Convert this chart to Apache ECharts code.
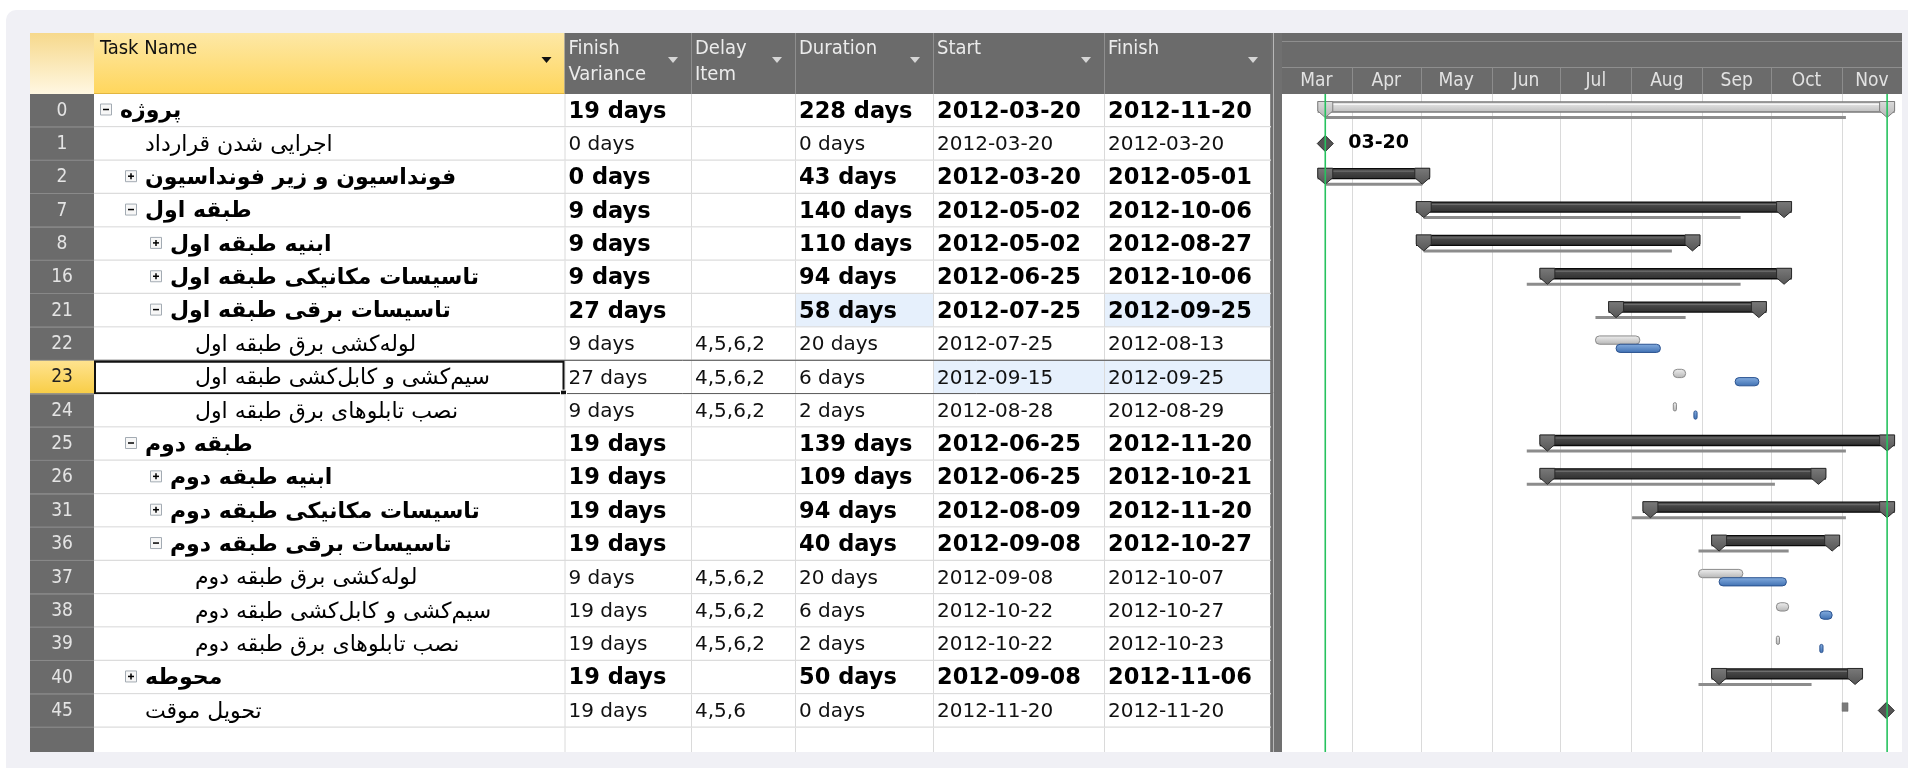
<!DOCTYPE html>
<html>
<head>
<meta charset="utf-8">
<title>Project Gantt</title>
<script src="https://cdn.jsdelivr.net/npm/echarts@6/dist/echarts.min.js"></script>
<style>
  html, body { margin: 0; padding: 0; background: #fff; }
  #main { width: 1908px; height: 768px; }
</style>
</head>
<body>
<div id="main"></div>
<script>
// ---- data ----
var rowIds = ['0', '1', '2', '7', '8', '16', '21', '22', '23', '24', '25', '26', '31', '36', '37', '38', '39', '40', '45'];
var taskNames = [
  'پروژه',
  'اجرایی شدن قرارداد',
  'فونداسیون و زیر فونداسیون',
  'طبقه اول',
  'ابنیه طبقه اول',
  'تاسیسات مکانیکی طبقه اول',
  'تاسیسات برقی طبقه اول',
  'لوله\u200cکشی برق طبقه اول',
  'سیم\u200cکشی و کابل\u200cکشی طبقه اول',
  'نصب تابلوهای برق طبقه اول',
  'طبقه دوم',
  'ابنیه طبقه دوم',
  'تاسیسات مکانیکی طبقه دوم',
  'تاسیسات برقی طبقه دوم',
  'لوله\u200cکشی برق طبقه دوم',
  'سیم\u200cکشی و کابل\u200cکشی طبقه دوم',
  'نصب تابلوهای برق طبقه دوم',
  'محوطه',
  'تحویل موقت'
];
var outlineLevel = [0, 1, 1, 1, 2, 2, 2, 3, 3, 3, 1, 2, 2, 2, 3, 3, 3, 1, 1];
var outlineSymbol = ['-', '', '+', '-', '+', '+', '-', '', '', '', '-', '+', '+', '-', '', '', '', '+', ''];
var rowKind = ['project', 'milestone', 'summary', 'summary', 'summary', 'summary', 'summary', 'task', 'task', 'task',
  'summary', 'summary', 'summary', 'summary', 'task', 'task', 'task', 'summary', 'milestone'];
var finishVariance = ['19 days', '0 days', '0 days', '9 days', '9 days', '9 days', '27 days', '9 days', '27 days', '9 days',
  '19 days', '19 days', '19 days', '19 days', '9 days', '19 days', '19 days', '19 days', '19 days'];
var delayItem = ['', '', '', '', '', '', '', '4,5,6,2', '4,5,6,2', '4,5,6,2', '', '', '', '', '4,5,6,2', '4,5,6,2', '4,5,6,2', '', '4,5,6'];
var durations = ['228 days', '0 days', '43 days', '140 days', '110 days', '94 days', '58 days', '20 days', '6 days', '2 days',
  '139 days', '109 days', '94 days', '40 days', '20 days', '6 days', '2 days', '50 days', '0 days'];
var startDates = ['2012-03-20', '2012-03-20', '2012-03-20', '2012-05-02', '2012-05-02', '2012-06-25', '2012-07-25', '2012-07-25',
  '2012-09-15', '2012-08-28', '2012-06-25', '2012-06-25', '2012-08-09', '2012-09-08', '2012-09-08', '2012-10-22', '2012-10-22',
  '2012-09-08', '2012-11-20'];
var finishDates = ['2012-11-20', '2012-03-20', '2012-05-01', '2012-10-06', '2012-08-27', '2012-10-06', '2012-09-25', '2012-08-13',
  '2012-09-25', '2012-08-29', '2012-11-20', '2012-10-21', '2012-11-20', '2012-10-27', '2012-10-07', '2012-10-27', '2012-10-23',
  '2012-11-06', '2012-11-20'];
// baseline dates
var baselineStart = ['2012-03-20', '2012-03-20', '2012-03-20', '2012-05-02', '2012-05-02', '2012-06-16', '2012-07-16', '2012-07-16',
  '2012-08-19', '2012-08-19', '2012-06-16', '2012-06-16', '2012-08-01', '2012-08-30', '2012-08-30', '2012-10-03', '2012-10-03',
  '2012-08-30', '2012-11-02'];
var baselineFinish = ['2012-11-02', '2012-03-20', '2012-05-01', '2012-09-17', '2012-08-18', '2012-09-17', '2012-08-24', '2012-08-04',
  '2012-08-24', '2012-08-20', '2012-11-02', '2012-10-02', '2012-11-02', '2012-10-08', '2012-09-18', '2012-10-08', '2012-10-04',
  '2012-10-18', '2012-11-02'];
var milestoneLabel = ['', '03-20', '', '', '', '', '', '', '', '', '', '', '', '', '', '', '', '', ''];
var headerLabels = ['Task Name', 'Finish\nVariance', 'Delay\nItem', 'Duration', 'Start', 'Finish'];
var monthLabels = ['Mar', 'Apr', 'May', 'Jun', 'Jul', 'Aug', 'Sep', 'Oct', 'Nov'];
var monthStarts = ['2012-03-01', '2012-04-01', '2012-05-01', '2012-06-01', '2012-07-01', '2012-08-01', '2012-09-01', '2012-10-01', '2012-11-01'];
var timeMin = '2012-03-01T00:00:00';
var timeMax = '2012-11-27T05:00:00';

// ---- layout / style ----
var TABLE_LEFT = 30, HEADER_TOP = 33, GRID_TOP = 94, GRID_H = 658;
var COL_X = [0, 64, 534.5, 661, 765, 903, 1074, 1241];
var GANTT_LEFT = 1281, GANTT_W = 621;
var Y_MAX = 19.73;
var SELECTED_ROW = 8;
var CHANGED_CELLS = { 6: [4, 6], 8: [5, 6] };
var FONT_C = '"DejaVu Sans Condensed", "DejaVu Sans", sans-serif';
var FONT_N = '"DejaVu Sans", sans-serif';
var FONT_FA = '"DejaVu Sans", sans-serif';

function ms(d, hm) { return new Date(d + 'T' + hm + ':00').getTime(); }
function grad(c0, c1) {
  return new echarts.graphic.LinearGradient(0, 0, 0, 1, [{ offset: 0, color: c0 }, { offset: 1, color: c1 }]);
}

var tableData = rowIds.map(function (id, i) { return [i]; });
tableData.push([rowIds.length]); // empty trailing row

var ganttData = rowIds.map(function (id, i) {
  return [i, ms(startDates[i], '08:00'), ms(finishDates[i], '17:00'),
    ms(baselineStart[i], '08:00'), ms(baselineFinish[i], '17:00')];
});
var monthData = monthStarts.map(function (m, i) {
  return [ms(m, '00:00'), i + 1 < monthStarts.length ? ms(monthStarts[i + 1], '00:00') : new Date(timeMax).getTime()];
});
var statusData = [[ms(startDates[0], '08:00')], [ms(finishDates[0], '17:00')]];

// ---- table rows ----
function renderRow(params, api) {
  var i = api.value(0);
  var top = api.coord([0, i])[1];
  var bot = Math.min(api.coord([0, i + 1])[1], api.coord([0, Y_MAX])[1]);
  var cy = top + (api.coord([0, i + 1])[1] - top) / 2;
  function X(c) { return api.coord([COL_X[c], i])[0]; }
  var blank = i >= rowIds.length;
  var sel = i === SELECTED_ROW;
  var ch = [];
  ch.push({ type: 'rect', shape: { x: X(0), y: top, width: X(1) - X(0), height: bot - top },
    style: { fill: sel ? grad('#ffe38f', '#f8cd45') : '#6b6b6b' } });
  ch.push({ type: 'rect', shape: { x: X(1), y: top, width: X(7) - X(1), height: bot - top }, style: { fill: '#fff' } });
  (CHANGED_CELLS[i] || []).forEach(function (c) {
    ch.push({ type: 'rect', shape: { x: X(c), y: top, width: X(c + 1) - X(c), height: bot - top }, style: { fill: '#e6f0fc' } });
  });
  for (var c = 2; c < 7; c++) {
    ch.push({ type: 'line', shape: { x1: X(c) + 0.5, y1: top, x2: X(c) + 0.5, y2: bot }, style: { stroke: '#dadada', lineWidth: 1 } });
  }
  ch.push({ type: 'line', shape: { x1: X(7) - 0.5, y1: top, x2: X(7) - 0.5, y2: bot }, style: { stroke: '#8a8a8a', lineWidth: 1 } });
  if (!blank) {
    ch.push({ type: 'line', shape: { x1: X(1), y1: bot - 0.5, x2: X(7), y2: bot - 0.5 }, style: { stroke: '#dcdcdc', lineWidth: 1.5 } });
    ch.push({ type: 'line', shape: { x1: X(0), y1: bot - 0.5, x2: X(1), y2: bot - 0.5 }, style: { stroke: '#8c8c8c', lineWidth: 1 } });
    ch.push({ type: 'text', style: { x: (X(0) + X(1)) / 2, y: cy, text: rowIds[i], fill: sel ? '#222' : '#e4e4e4',
      font: '19px ' + FONT_C, align: 'center', verticalAlign: 'middle' } });
    var kind = rowKind[i];
    var bold = kind === 'summary' || kind === 'project';
    var lvl = outlineLevel[i];
    var tx = X(1) + 26 + lvl * 25;
    if (outlineSymbol[i]) {
      var bx = X(1) + 6 + lvl * 25, by = top + 9.5;
      ch.push({ type: 'rect', shape: { x: bx + 0.5, y: by + 0.5, width: 11, height: 11 }, style: { fill: '#f7f7f7', stroke: '#a3abb3', lineWidth: 1 } });
      ch.push({ type: 'line', shape: { x1: bx + 3, y1: by + 6, x2: bx + 9, y2: by + 6 }, style: { stroke: '#000', lineWidth: 1.5 } });
      if (outlineSymbol[i] === '+') {
        ch.push({ type: 'line', shape: { x1: bx + 6, y1: by + 3, x2: bx + 6, y2: by + 9 }, style: { stroke: '#000', lineWidth: 1.5 } });
      }
    }
    ch.push({ type: 'text', style: { x: tx, y: cy + 1, text: taskNames[i], fill: '#000',
      font: (bold ? 'bold 22px ' : '22px ') + FONT_FA, align: 'left', verticalAlign: 'middle' } });
    var cells = [finishVariance[i], delayItem[i], durations[i], startDates[i], finishDates[i]];
    cells.forEach(function (t, k) {
      ch.push({ type: 'text', style: { x: X(k + 2) + 4, y: cy + 1, text: t, fill: bold ? '#000' : '#111',
        font: bold ? 'bold 22.5px ' + FONT_N : '20px ' + FONT_N, align: 'left', verticalAlign: 'middle' } });
    });
    if (sel) {
      ch.push({ type: 'line', shape: { x1: X(1), y1: top - 0.5, x2: X(7), y2: top - 0.5 }, style: { stroke: '#505050', lineWidth: 1 } });
      ch.push({ type: 'line', shape: { x1: X(1), y1: bot - 0.5, x2: X(7), y2: bot - 0.5 }, style: { stroke: '#505050', lineWidth: 1 } });
      ch.push({ type: 'rect', shape: { x: X(1) + 1, y: top + 1, width: X(2) - X(1) - 2, height: bot - top - 2 },
        style: { fill: 'none', stroke: '#111', lineWidth: 2 } });
      ch.push({ type: 'rect', shape: { x: X(2) - 4, y: bot - 4, width: 6, height: 6 }, style: { fill: '#111', stroke: '#fff', lineWidth: 1 } });
    }
  }
  return { type: 'group', children: ch };
}

// ---- gantt bars ----
function renderBar(params, api) {
  var i = api.value(0);
  var kind = rowKind[i];
  var top = api.coord([api.value(1), i])[1];
  var xs = api.coord([api.value(1), i])[0];
  var xe = api.coord([api.value(2), i])[0];
  var bxs = api.coord([api.value(3), i])[0];
  var bxe = api.coord([api.value(4), i])[0];
  var ch = [];
  if (kind === 'summary' || kind === 'project') {
    var proj = kind === 'project';
    ch.push({ type: 'rect', shape: { x: bxs, y: top + 22, width: bxe - bxs, height: 3 }, style: { fill: '#8c8c8c' } });
    ch.push({ type: 'rect', shape: { x: xs - 7, y: top + 8, width: xe - xs + 14, height: 10 },
      style: { fill: proj ? grad('#ececec', '#bdbdbd') : grad('#555', '#2e2e2e'), stroke: proj ? '#7a7a7a' : '#0a0a0a', lineWidth: 1.3 } });
    ch.push({ type: 'line', shape: { x1: xs - 5, y1: top + 10.5, x2: xe + 5, y2: top + 10.5 },
      style: { stroke: proj ? '#f6f6f6' : '#707070', lineWidth: 1 } });
    [xs, xe].forEach(function (xc) {
      ch.push({ type: 'polygon', shape: { points: [[xc - 7.5, top + 7.5], [xc + 7.5, top + 7.5], [xc + 7.5, top + 17], [xc, top + 23.5], [xc - 7.5, top + 17]] },
        style: { fill: proj ? grad('#dcdcdc', '#b4b4b4') : grad('#7a7a7a', '#555'), stroke: proj ? '#7e7e7e' : '#2a2a2a', lineWidth: 1 } });
    });
  } else if (kind === 'task') {
    var bw = Math.max(bxe - bxs, 2.5), cw = Math.max(xe - xs, 2.5);
    ch.push({ type: 'rect', shape: { x: bxs, y: top + 8.5, width: bw, height: 8.3, r: Math.min(4, bw / 2) },
      style: { fill: grad('#f0f0f0', '#b4b4b4'), stroke: '#8a8a8a', lineWidth: 1 } });
    ch.push({ type: 'rect', shape: { x: xs, y: top + 16.8, width: cw, height: 8.2, r: Math.min(4, cw / 2) },
      style: { fill: grad('#86aee0', '#3e6fb1'), stroke: '#2b5390', lineWidth: 1 } });
  } else {
    if (api.value(3) !== api.value(1)) {
      ch.push({ type: 'rect', shape: { x: bxs - 3, y: top + 8.5, width: 6, height: 8.5 }, style: { fill: '#7b7b7b', stroke: '#666', lineWidth: 0.5 } });
    }
    var cy = top + 16.2;
    ch.push({ type: 'polygon', shape: { points: [[xs, cy - 8], [xs + 8, cy], [xs, cy + 8], [xs - 8, cy]] },
      style: { fill: '#555', stroke: '#262626', lineWidth: 1 } });
    if (milestoneLabel[i]) {
      ch.push({ type: 'text', style: { x: xs + 23, y: cy, text: milestoneLabel[i], fill: '#000',
        font: 'bold 19px ' + FONT_N, align: 'left', verticalAlign: 'middle' } });
    }
  }
  return { type: 'group', children: ch };
}

function renderMonth(params, api) {
  var s = api.coord([api.value(0), 0]);
  var e = api.coord([api.value(1), 0]);
  var gb = api.coord([api.value(0), Y_MAX])[1];
  var ch = [];
  var x = Math.round(s[0]) + 0.5;
  if (params.dataIndex > 0) {
    ch.push({ type: 'line', shape: { x1: x, y1: s[1] - 26, x2: x, y2: s[1] }, style: { stroke: '#8c8c8c', lineWidth: 1 } });
    ch.push({ type: 'line', shape: { x1: x, y1: s[1], x2: x, y2: gb }, style: { stroke: '#dadada', lineWidth: 1 } });
  }
  ch.push({ type: 'text', style: { x: (s[0] + e[0]) / 2, y: s[1] - 13, text: monthLabels[params.dataIndex], fill: '#e2e2e2',
    font: '19px ' + FONT_C, align: 'center', verticalAlign: 'middle' } });
  return { type: 'group', children: ch };
}

function renderStatus(params, api) {
  var a = api.coord([api.value(0), 0]);
  var b = api.coord([api.value(0), Y_MAX]);
  return { type: 'line', shape: { x1: a[0], y1: a[1], x2: b[0], y2: b[1] }, style: { stroke: '#26c25e', lineWidth: 1.6 } };
}

// ---- static frame (headers, panel) ----
var ABS = COL_X.map(function (v) { return TABLE_LEFT + v; });
var frame = [];
frame.push({ type: 'rect', z: -10, shape: { x: 6, y: 10, width: 1930, height: 800, r: 10 }, style: { fill: '#f0f0f5' } });
frame.push({ type: 'rect', shape: { x: ABS[0], y: HEADER_TOP, width: ABS[1] - ABS[0], height: GRID_TOP - HEADER_TOP },
  style: { fill: grad('#f6d98c', '#fff7e2') } });
frame.push({ type: 'rect', shape: { x: ABS[1], y: HEADER_TOP, width: ABS[2] - ABS[1], height: GRID_TOP - HEADER_TOP },
  style: { fill: grad('#fde8a6', '#ffd65c') } });
frame.push({ type: 'rect', shape: { x: ABS[2], y: HEADER_TOP, width: ABS[7] - ABS[2], height: GRID_TOP - HEADER_TOP },
  style: { fill: '#6b6b6b' } });
for (var c = 3; c < 7; c++) {
  frame.push({ type: 'line', shape: { x1: ABS[c] + 0.5, y1: HEADER_TOP, x2: ABS[c] + 0.5, y2: GRID_TOP }, style: { stroke: '#8e8e8e', lineWidth: 1 } });
}
frame.push({ type: 'line', shape: { x1: ABS[1], y1: GRID_TOP - 0.5, x2: ABS[2], y2: GRID_TOP - 0.5 }, style: { stroke: '#e2b640', lineWidth: 1 } });
headerLabels.forEach(function (t, k) {
  var c = k + 1;
  var lines = t.split('\n');
  lines.forEach(function (ln, j) {
    frame.push({ type: 'text', style: { x: ABS[c] + (c === 1 ? 6 : 4), y: 49 + j * 25.5, text: ln, fill: c === 1 ? '#111' : '#ececec',
      font: '20px ' + FONT_C, align: 'left', verticalAlign: 'middle' } });
  });
  var ax = ABS[c + 1] - 18;
  frame.push({ type: 'polygon', shape: { points: [[ax - 5, 57], [ax + 5, 57], [ax, 63]] }, style: { fill: c === 1 ? '#111' : '#d6d6d6' } });
});
// divider between table and gantt
frame.push({ type: 'rect', shape: { x: ABS[7], y: HEADER_TOP, width: GANTT_LEFT - ABS[7] + 1, height: GRID_TOP + GRID_H - HEADER_TOP },
  style: { fill: '#707070' } });
frame.push({ type: 'line', shape: { x1: ABS[7] + 2.5, y1: HEADER_TOP, x2: ABS[7] + 2.5, y2: GRID_TOP + GRID_H }, style: { stroke: '#b8b8b8', lineWidth: 1 } });
// gantt header and body background
frame.push({ type: 'rect', shape: { x: GANTT_LEFT + 1, y: HEADER_TOP, width: GANTT_W - 1, height: GRID_TOP - HEADER_TOP }, style: { fill: '#6b6b6b' } });
frame.push({ type: 'line', shape: { x1: GANTT_LEFT + 1, y1: 41.5, x2: GANTT_LEFT + GANTT_W, y2: 41.5 }, style: { stroke: '#8e8e8e', lineWidth: 1 } });
frame.push({ type: 'line', shape: { x1: GANTT_LEFT + 1, y1: 67.5, x2: GANTT_LEFT + GANTT_W, y2: 67.5 }, style: { stroke: '#8e8e8e', lineWidth: 1 } });
frame.push({ type: 'rect', shape: { x: GANTT_LEFT + 1, y: GRID_TOP, width: GANTT_W - 1, height: GRID_H }, style: { fill: '#fff' } });

var option = {
  animation: false,
  backgroundColor: '#fff',
  graphic: { elements: frame },
  grid: [
    { left: TABLE_LEFT, top: GRID_TOP, width: COL_X[7], height: GRID_H },
    { left: GANTT_LEFT, top: GRID_TOP, width: GANTT_W, height: GRID_H }
  ],
  xAxis: [
    { type: 'value', gridIndex: 0, min: 0, max: COL_X[7], show: false },
    { type: 'time', gridIndex: 1, min: timeMin, max: timeMax, show: false }
  ],
  yAxis: [
    { type: 'value', gridIndex: 0, min: 0, max: Y_MAX, inverse: true, show: false },
    { type: 'value', gridIndex: 1, min: 0, max: Y_MAX, inverse: true, show: false }
  ],
  series: [
    { type: 'custom', name: 'table', xAxisIndex: 0, yAxisIndex: 0, renderItem: renderRow, data: tableData, z: 2, silent: true },
    { type: 'custom', name: 'months', xAxisIndex: 1, yAxisIndex: 1, renderItem: renderMonth, data: monthData, encode: { x: [0, 1] }, z: 2, silent: true },
    { type: 'custom', name: 'bars', xAxisIndex: 1, yAxisIndex: 1, renderItem: renderBar, data: ganttData, encode: { x: [1, 2], y: 0 }, z: 3, silent: true },
    { type: 'custom', name: 'status', xAxisIndex: 1, yAxisIndex: 1, renderItem: renderStatus, data: statusData, encode: { x: 0 }, z: 4, silent: true }
  ]
};

var chart = echarts.init(document.getElementById('main'));
chart.setOption(option);
</script>
</body>
</html>
